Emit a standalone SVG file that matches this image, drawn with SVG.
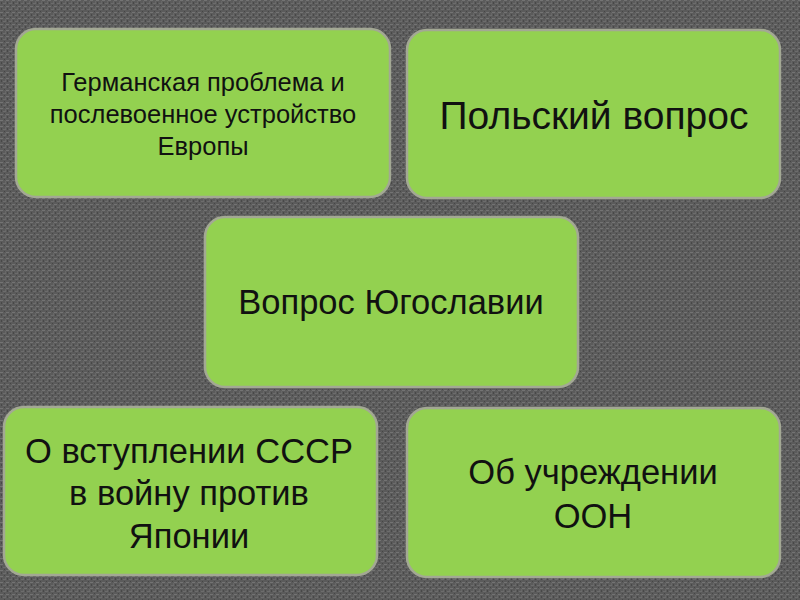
<svg xmlns="http://www.w3.org/2000/svg" width="800" height="600" viewBox="0 0 800 600">
<defs>
<pattern id="tex" width="6" height="6" patternUnits="userSpaceOnUse">
<rect width="6" height="6" fill="#5b5b5b"/>
<rect x="0" y="0" width="3" height="1" fill="#737373"/>
<rect x="3" y="3" width="3" height="1" fill="#6c6c6c"/>
<rect x="1" y="2" width="1" height="2" fill="#484848"/>
<rect x="4" y="5" width="1" height="1" fill="#464646"/>
<rect x="5" y="1" width="1" height="2" fill="#676767"/>
</pattern>
<style>
.box{fill:#93d150;stroke:#a3a894;stroke-width:2.5}
.t{font-family:"Liberation Sans",Arial,sans-serif;fill:#111;text-anchor:middle}
</style>
</defs>
<rect width="800" height="600" fill="url(#tex)"/>
<g id="connectors"></g>
<g id="n1">
<rect class="box" x="16" y="29" width="374" height="168" rx="20"/>
<text class="t" font-size="25.5"><tspan x="203" y="91">Германская проблема и</tspan><tspan x="203" y="123">послевоенное устройство</tspan><tspan x="203" y="155">Европы</tspan></text>
</g>
<g id="n2">
<rect class="box" x="407" y="30" width="373" height="168" rx="20"/>
<text class="t" font-size="39" x="594" y="129">Польский вопрос</text>
</g>
<g id="n3">
<rect class="box" x="205" y="217" width="373" height="170" rx="20"/>
<text class="t" font-size="34.5" x="391" y="314">Вопрос Югославии</text>
</g>
<g id="n4">
<rect class="box" x="4" y="407" width="373" height="168" rx="20"/>
<text class="t" font-size="34.5"><tspan x="189" y="463">О вступлении СССР</tspan><tspan x="189" y="505">в войну против</tspan><tspan x="189" y="548">Японии</tspan></text>
</g>
<g id="n5">
<rect class="box" x="407" y="408" width="373" height="169" rx="20"/>
<text class="t" font-size="34.5"><tspan x="593" y="484">Об учреждении</tspan><tspan x="593" y="528">ООН</tspan></text>
</g>
</svg>
